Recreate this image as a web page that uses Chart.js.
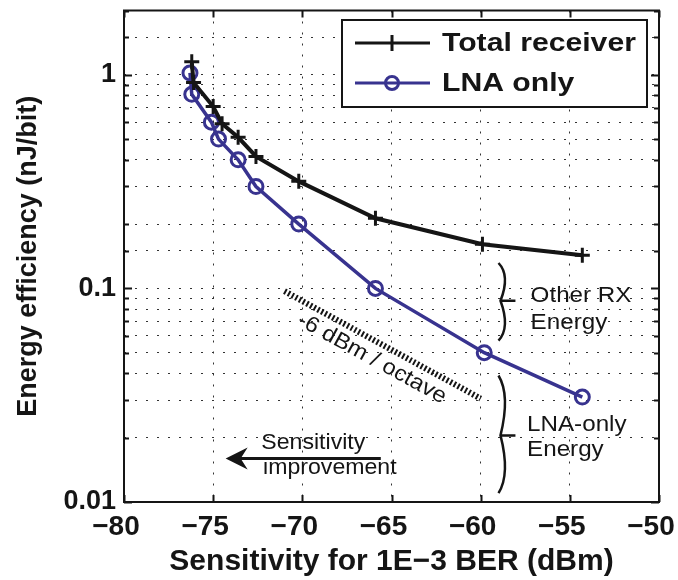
<!DOCTYPE html>
<html>
<head>
<meta charset="utf-8">
<script src="https://cdn.jsdelivr.net/npm/chart.js@4.4.1/dist/chart.umd.min.js"></script>
<style>
  html, body { margin: 0; padding: 0; background: #fff; }
</style>
</head>
<body>
<canvas id="chart" width="678" height="580"></canvas>
<script>
/* ── Data ── */
var seriesNames = ['Total receiver', 'LNA only'];
var sensTotal   = [-76.2, -76.1, -75.0, -74.5, -73.6, -72.6, -70.2, -65.9, -59.9, -54.3];
var energyTotal = [1.15, 0.92, 0.71, 0.59, 0.51, 0.415, 0.317, 0.213, 0.161, 0.143];
var sensLna     = [-76.3, -76.2, -75.1, -74.7, -73.6, -72.6, -70.2, -65.9, -59.8, -54.3];
var energyLna   = [1.02, 0.81, 0.60, 0.50, 0.40, 0.30, 0.20, 0.10, 0.050, 0.031];
var yLabelTicks = [0.01, 0.1, 1];

var FONT = 'Liberation Sans, Arial, Helvetica, sans-serif';
var BLUE = '#38338f';
var INK = '#151515';

function toPoints(xs, ys) {
  return xs.map(function(x, i) { return { x: x, y: ys[i] }; });
}

function isDecade(v) {
  var l = Math.log10(v);
  return Math.abs(l - Math.round(l)) < 1e-9;
}

// text drawn a little wider, like the stretched original
function wideText(ctx, str, x, y, sx) {
  ctx.save();
  ctx.translate(x, y);
  ctx.scale(sx, 1);
  ctx.fillText(str, 0, 0);
  ctx.restore();
}

/* ── Annotations: braces, slope guide, arrow, legend, frame ── */
function brace(ctx, xs, ys, xEnd, xBulge, xTickEnd, yTop, yMid, yBot) {
  var xe = xs.getPixelForValue(xEnd), xb = xs.getPixelForValue(xBulge);
  var xt = xs.getPixelForValue(xTickEnd);
  var yt = ys.getPixelForValue(yTop), ym = ys.getPixelForValue(yMid), yb = ys.getPixelForValue(yBot);
  var xm = xe + 2;
  ctx.beginPath();
  ctx.moveTo(xe, yt);
  ctx.bezierCurveTo(xb + 2, yt + (ym - yt) * 0.25, xb, ym - (ym - yt) * 0.35, xm, ym);
  ctx.bezierCurveTo(xb, ym + (yb - ym) * 0.35, xb + 2, yb - (yb - ym) * 0.25, xe, yb);
  ctx.moveTo(xm, ym);
  ctx.lineTo(xt, ym);
  ctx.stroke();
}

var annotate = {
  id: 'annotate',
  afterDatasetsDraw: function(chart) {
    var ctx = chart.ctx, xs = chart.scales.x, ys = chart.scales.y;
    ctx.save();
    ctx.strokeStyle = INK;
    ctx.fillStyle = INK;

    // -6 dBm / octave guide line
    var x1 = xs.getPixelForValue(-71.0), y1 = ys.getPixelForValue(0.097);
    var x2 = xs.getPixelForValue(-60.0), y2 = ys.getPixelForValue(0.0305);
    ctx.lineWidth = 6;
    ctx.setLineDash([2, 2.2]);
    ctx.beginPath(); ctx.moveTo(x1, y1); ctx.lineTo(x2, y2); ctx.stroke();
    ctx.setLineDash([]);
    var ang = Math.atan2(y2 - y1, x2 - x1);
    ctx.save();
    ctx.translate(xs.getPixelForValue(-66.1), ys.getPixelForValue(0.0469));
    ctx.rotate(ang);
    ctx.font = '22px ' + FONT;
    ctx.textAlign = 'center'; ctx.textBaseline = 'middle';
    ctx.scale(1.08, 1);
    ctx.fillText('-6 dBm / octave', 0, 0);
    ctx.restore();

    // braces
    ctx.lineWidth = 2.5;
    brace(ctx, xs, ys, -59.0, -58.6, -58.05, 0.1315, 0.0875, 0.0569);
    brace(ctx, xs, ys, -59.0, -58.6, -58.05, 0.0391, 0.0205, 0.0110);

    ctx.font = '22px ' + FONT;
    ctx.textAlign = 'left'; ctx.textBaseline = 'middle';
    wideText(ctx, 'Other RX', xs.getPixelForValue(-57.2), ys.getPixelForValue(0.0923), 1.1);
    wideText(ctx, 'Energy', xs.getPixelForValue(-57.2), ys.getPixelForValue(0.069), 1.1);
    wideText(ctx, 'LNA-only', xs.getPixelForValue(-57.4), ys.getPixelForValue(0.0229), 1.1);
    wideText(ctx, 'Energy', xs.getPixelForValue(-57.4), ys.getPixelForValue(0.0175), 1.1);

    // sensitivity improvement arrow
    var ay = ys.getPixelForValue(0.016);
    var ax1 = xs.getPixelForValue(-65.6), ax2 = xs.getPixelForValue(-74.3);
    ctx.lineWidth = 3;
    ctx.beginPath(); ctx.moveTo(ax1, ay); ctx.lineTo(ax2 + 14, ay); ctx.stroke();
    ctx.beginPath();
    ctx.moveTo(ax2, ay);
    ctx.lineTo(ax2 + 22, ay - 11);
    ctx.lineTo(ax2 + 15, ay);
    ctx.lineTo(ax2 + 22, ay + 11);
    ctx.closePath(); ctx.fill();
    wideText(ctx, 'Sensitivity', xs.getPixelForValue(-72.3), ys.getPixelForValue(0.019), 1.05);
    wideText(ctx, 'improvement', xs.getPixelForValue(-72.2), ys.getPixelForValue(0.0144), 1.05);
    ctx.restore();
  },
  afterDraw: function(chart) {
    var ctx = chart.ctx, a = chart.chartArea, xs = chart.scales.x, ys = chart.scales.y;
    ctx.save();
    ctx.strokeStyle = INK;
    ctx.lineWidth = 2;
    // inward tick marks on all four sides
    ctx.beginPath();
    xs.ticks.forEach(function(t) {
      var px = Math.round(xs.getPixelForValue(t.value)) + 0.5;
      ctx.moveTo(px, a.bottom); ctx.lineTo(px, a.bottom - 7);
      ctx.moveTo(px, a.top); ctx.lineTo(px, a.top + 7);
    });
    ys.ticks.forEach(function(t) {
      var py = Math.round(ys.getPixelForValue(t.value)) + 0.5;
      var len = isDecade(t.value) ? 8 : 5;
      ctx.moveTo(a.left, py); ctx.lineTo(a.left + len, py);
      ctx.moveTo(a.right, py); ctx.lineTo(a.right - len, py);
    });
    ctx.stroke();
    ctx.strokeRect(a.left, a.top, a.right - a.left, a.bottom - a.top);

    // legend box
    var lx = 342, ly = 20, lw = 305, lh = 87;
    ctx.fillStyle = '#fff';
    ctx.fillRect(lx, ly, lw, lh);
    ctx.strokeRect(lx, ly, lw, lh);
    var ds = chart.data.datasets;
    var rows = [23, 63];
    ds.forEach(function(d, i) {
      var y = ly + rows[i];
      ctx.strokeStyle = d.borderColor;
      ctx.lineWidth = 3;
      ctx.beginPath(); ctx.moveTo(355, y); ctx.lineTo(430, y); ctx.stroke();
      ctx.beginPath();
      if (d.pointStyle === 'cross') {
        ctx.moveTo(392, y - 8); ctx.lineTo(392, y + 8);
      } else {
        ctx.arc(392, y, 6.5, 0, Math.PI * 2);
      }
      ctx.stroke();
      ctx.fillStyle = INK;
      ctx.font = 'bold 26px ' + FONT;
      ctx.textAlign = 'left'; ctx.textBaseline = 'middle';
      wideText(ctx, d.label, 442, y + 1, 1.16);
    });
    ctx.restore();
  }
};

new Chart(document.getElementById('chart'), {
  type: 'line',
  data: {
    datasets: [
      {
        label: seriesNames[0],
        data: toPoints(sensTotal, energyTotal),
        borderColor: INK,
        borderWidth: 4,
        pointStyle: 'cross',
        pointRadius: 7.5,
        pointBorderWidth: 3,
        pointBorderColor: INK,
        tension: 0
      },
      {
        label: seriesNames[1],
        data: toPoints(sensLna, energyLna),
        borderColor: BLUE,
        borderWidth: 3.5,
        pointStyle: 'circle',
        pointRadius: 7,
        pointBorderWidth: 3,
        pointBorderColor: BLUE,
        pointBackgroundColor: 'rgba(0,0,0,0)',
        tension: 0
      }
    ]
  },
  options: {
    responsive: false,
    animation: false,
    devicePixelRatio: 1,
    layout: { padding: { top: 6, right: 19, left: 0, bottom: 0 } },
    plugins: { legend: { display: false }, tooltip: { enabled: false } },
    scales: {
      x: {
        type: 'linear',
        min: -80, max: -50,
        afterFit: function(s) { s.height = 78; s.paddingLeft = 0; s.paddingRight = 0; },
        ticks: {
          stepSize: 5,
          padding: 8,
          labelOffset: -8,
          color: INK,
          font: { family: FONT, size: 28, weight: 'bold' },
          callback: function(v) { return String(v).replace('-', '\u2212'); }
        },
        grid: { color: '#333', lineWidth: 1, drawTicks: false },
        border: { display: false, dash: [2, 9] },
        title: {
          display: true,
          text: 'Sensitivity for 1E\u22123 BER (dBm)',
          color: INK,
          font: { family: FONT, size: 30, weight: 'bold' },
          padding: { top: 0, bottom: 0 }
        }
      },
      y: {
        type: 'logarithmic',
        min: 0.01, max: 2,
        afterFit: function(s) { s.width = 124; s.paddingTop = 0; s.paddingBottom = 0; },
        ticks: {
          autoSkip: false,
          padding: 8,
          color: INK,
          font: { family: FONT, size: 27, weight: 'bold' },
          callback: function(v) {
            return yLabelTicks.some(function(t) { return Math.abs(t - v) < 1e-9; }) ? String(v) : '';
          }
        },
        grid: { color: '#333', lineWidth: 1, drawTicks: false },
        border: { display: false, dash: [2, 9] },
        title: {
          display: true,
          text: 'Energy efficiency (nJ/bit)',
          color: INK,
          font: { family: FONT, size: 27, weight: 'bold' },
          padding: { top: 12, bottom: 0 }
        }
      }
    }
  },
  plugins: [annotate]
});
</script>
</body>
</html>
